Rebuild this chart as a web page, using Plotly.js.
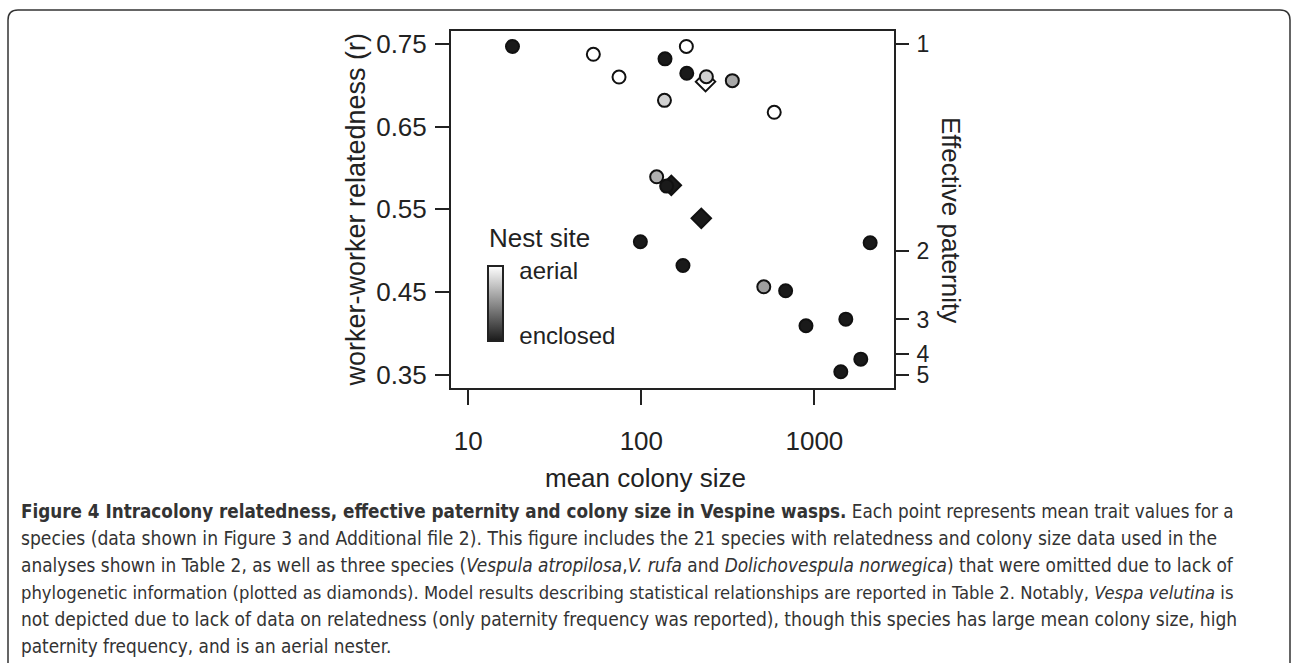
<!DOCTYPE html>
<html>
<head>
<meta charset="utf-8">
<script src="https://cdn.plot.ly/plotly-3.0.1.min.js"></script>
<style>
  html, body { margin: 0; padding: 0; background: #fff; }
  #chart { width: 1292px; height: 663px; }
</style>
</head>
<body>
<div id="chart"></div>
<script>
// ---------------- data ----------------
// species used in the analyses (circles)
const colonySize  = [18, 52.8, 74.3, 137, 182, 183, 237.5, 335.5, 136, 586, 122.6, 140, 98.7, 174, 510, 682, 894, 2100, 1519, 1854, 1421];
const relatedness = [0.747, 0.7375, 0.71, 0.732, 0.747, 0.7145, 0.7104, 0.7056, 0.6818, 0.6673, 0.5893, 0.578, 0.5107, 0.482, 0.4562, 0.4513, 0.409, 0.5094, 0.417, 0.3686, 0.3533];
// nest site: 1 = aerial (white) ... 0 = enclosed (black)
const nestAerial  = [0, 1, 1, 0, 1, 0, 0.8, 0.62, 0.8, 1, 0.65, 0, 0, 0, 0.58, 0, 0, 0, 0, 0, 0];
// species without phylogenetic information (diamonds)
const diamondSize        = [235, 149, 222];
const diamondRelatedness = [0.7044, 0.579, 0.539];
const diamondNest        = [1, 0, 0];
// axis ticks
const xTicks      = [10, 100, 1000];
const xTickLabels = ['10', '100', '1000'];
const yTicks      = [0.35, 0.45, 0.55, 0.65, 0.75];
const yTickLabels = ['0.35', '0.45', '0.55', '0.65', '0.75'];
const paternityTicks = [1, 2, 3, 4, 5];
const paternityLabels = ['1', '2', '3', '4', '5'];
// relatedness among workers for a given effective paternity (haplodiploid)
const paternityToR = k => 0.25 + 0.5 / k;

const captionLines = [
  '<b>Figure 4 Intracolony relatedness, effective paternity and colony size in Vespine wasps.</b> Each point represents mean trait values for a',
  'species (data shown in Figure 3 and Additional file 2). This figure includes the 21 species with relatedness and colony size data used in the',
  'analyses shown in Table 2, as well as three species (<i>Vespula atropilosa</i>,<i>V. rufa</i> and <i>Dolichovespula norwegica</i>) that were omitted due to lack of',
  'phylogenetic information (plotted as diamonds). Model results describing statistical relationships are reported in Table 2. Notably, <i>Vespa velutina</i> is',
  'not depicted due to lack of data on relatedness (only paternity frequency was reported), though this species has large mean colony size, high',
  'paternity frequency, and is an aerial nester.'
];

// ---------------- layout geometry ----------------
const W = 1292, H = 663;
const L = 451, R = 894, T = 31, B = 388;
const px2x = p => (p - L) / (R - L);
const py2y = p => (B - p) / (B - T);

const FONT = 'Liberation Sans, Arial, Helvetica, sans-serif';
const CAPFONT = 'DejaVu Sans Condensed, Liberation Sans Narrow, sans-serif';
const INK = '#222222';
const CAP_START = 19;
const captionEnd = [1232, 1216, 1233, 1232, 1236, null];   // right end of each caption line (px)
const captionY = [511, 538, 565, 592, 619, 646];

const colorscale = [[0, '#1a1a1a'], [1, '#ffffff']];

const traces = [
  {
    type: 'scatter', mode: 'markers',
    x: diamondSize, y: diamondRelatedness,
    marker: { symbol: 'diamond', size: 15, color: diamondNest, colorscale: colorscale, cmin: 0, cmax: 1,
              line: { color: '#111', width: 2 } },
    hoverinfo: 'skip'
  },
  {
    type: 'scatter', mode: 'markers',
    x: colonySize, y: relatedness,
    marker: {
      symbol: 'circle', size: 13, color: nestAerial, colorscale: colorscale, cmin: 0, cmax: 1,
      line: { color: '#111', width: 2 },
      showscale: true,
      colorbar: {
        x: px2x(487.7), xanchor: 'left',
        y: py2y(303.2), yanchor: 'middle',
        xpad: 0, ypad: 0,
        thickness: 15, thicknessmode: 'pixels',
        len: 75, lenmode: 'pixels',
        outlinewidth: 2, outlinecolor: '#222',
        tickvals: [0.07, 0.93], ticktext: ['enclosed', 'aerial'],
        ticks: 'outside', ticklen: 11, tickcolor: 'rgba(0,0,0,0)',
        tickfont: { family: FONT, size: 24, color: INK }
      }
    },
    hoverinfo: 'skip'
  },
  {
    type: 'scatter', mode: 'markers', yaxis: 'y2',
    x: [colonySize[0]], y: [relatedness[0]],
    marker: { opacity: 0 }, hoverinfo: 'skip'
  }
];

const annotations = [
  { text: 'Nest site', x: px2x(487), y: py2y(238), xanchor: 'left', yanchor: 'middle',
    font: { family: FONT, size: 26, color: INK } },
  { text: 'worker-worker relatedness (r)', x: px2x(355), y: 0.5, textangle: -90,
    xanchor: 'center', yanchor: 'middle', font: { family: FONT, size: 27, color: INK } },
  { text: 'Effective paternity', x: px2x(951), y: py2y(220), textangle: 90,
    xanchor: 'center', yanchor: 'middle', font: { family: FONT, size: 26, color: INK } },
  { text: 'mean colony size', x: px2x(645), y: py2y(478),
    xanchor: 'center', yanchor: 'middle', font: { family: FONT, size: 26, color: INK } }
].map(a => Object.assign({ xref: 'paper', yref: 'paper', showarrow: false }, a));

const CAP0 = annotations.length;
captionLines.forEach((t, i) => {
  annotations.push({
    xref: 'paper', yref: 'paper', showarrow: false,
    x: px2x(CAP_START), y: py2y(captionY[i]), xanchor: 'left', yanchor: 'middle',
    text: t, font: { family: CAPFONT, size: 18, color: '#333' }
  });
});

// rounded frame around figure + caption
const bx0 = 8, bx1 = 1290, by0 = 10, rad = 10, byEnd = 663;
const P = (x, y) => px2x(x).toFixed(5) + ',' + py2y(y).toFixed(5);
const framePath = 'M' + P(bx0, byEnd) + ' L' + P(bx0, by0 + rad) +
  ' Q' + P(bx0, by0) + ' ' + P(bx0 + rad, by0) +
  ' L' + P(bx1 - rad, by0) +
  ' Q' + P(bx1, by0) + ' ' + P(bx1, by0 + rad) +
  ' L' + P(bx1, byEnd);

const axisCommon = {
  showgrid: false, zeroline: false,
  ticks: 'outside', tickwidth: 2, tickcolor: INK,
  tickfont: { family: FONT, size: 26, color: INK }
};

const layout = {
  width: W, height: H,
  margin: { l: L, r: W - R, t: T, b: H - B, pad: 0, autoexpand: false },
  paper_bgcolor: '#fff', plot_bgcolor: '#fff',
  showlegend: false,
  xaxis: Object.assign({}, axisCommon, {
    type: 'log', range: [0.9, 3.46],
    tickvals: xTicks, ticktext: xTickLabels, ticklen: 15,
    ticklabelstandoff: 14,
    showline: true, linewidth: 2, linecolor: INK, mirror: true
  }),
  yaxis: Object.assign({}, axisCommon, {
    range: [0.3337, 0.7657],
    tickvals: yTicks, ticktext: yTickLabels, ticklen: 14,
    ticklabelstandoff: 3,
    showline: true, linewidth: 2, linecolor: INK, mirror: true
  }),
  yaxis2: Object.assign({}, axisCommon, {
    overlaying: 'y', side: 'right', range: [0.3337, 0.7657],
    tickvals: paternityTicks.map(paternityToR), ticktext: paternityLabels, ticklen: 14,
    tickfont: { family: FONT, size: 23, color: INK },
    ticklabelstandoff: 3, showline: false
  }),
  annotations: annotations,
  shapes: [{
    type: 'path', xref: 'paper', yref: 'paper', path: framePath,
    line: { color: '#333', width: 1.5 }, layer: 'above'
  }]
};

const gd = document.getElementById('chart');
Plotly.newPlot(gd, traces, layout, { staticPlot: true, displayModeBar: false }).then(() => {
  // fit each caption line's font so that it ends where the reference line ends
  const upd = {};
  const sizes = [];
  captionLines.forEach((t, i) => {
    const node = gd.querySelector('.annotation[data-index="' + (CAP0 + i) + '"] text');
    if (!node || captionEnd[i] == null) return;
    const w = node.getBBox().width;
    if (!(w > 0)) return;
    const s = 18 * (captionEnd[i] - CAP_START) / w;
    sizes.push(s);
    upd['annotations[' + (CAP0 + i) + '].font.size'] = s;
  });
  if (!sizes.length) return;
  const avg = sizes.reduce((a, b) => a + b, 0) / sizes.length;
  captionLines.forEach((t, i) => {
    if (captionEnd[i] == null) upd['annotations[' + (CAP0 + i) + '].font.size'] = avg;
  });
  return Plotly.relayout(gd, upd);
});
</script>
</body>
</html>
